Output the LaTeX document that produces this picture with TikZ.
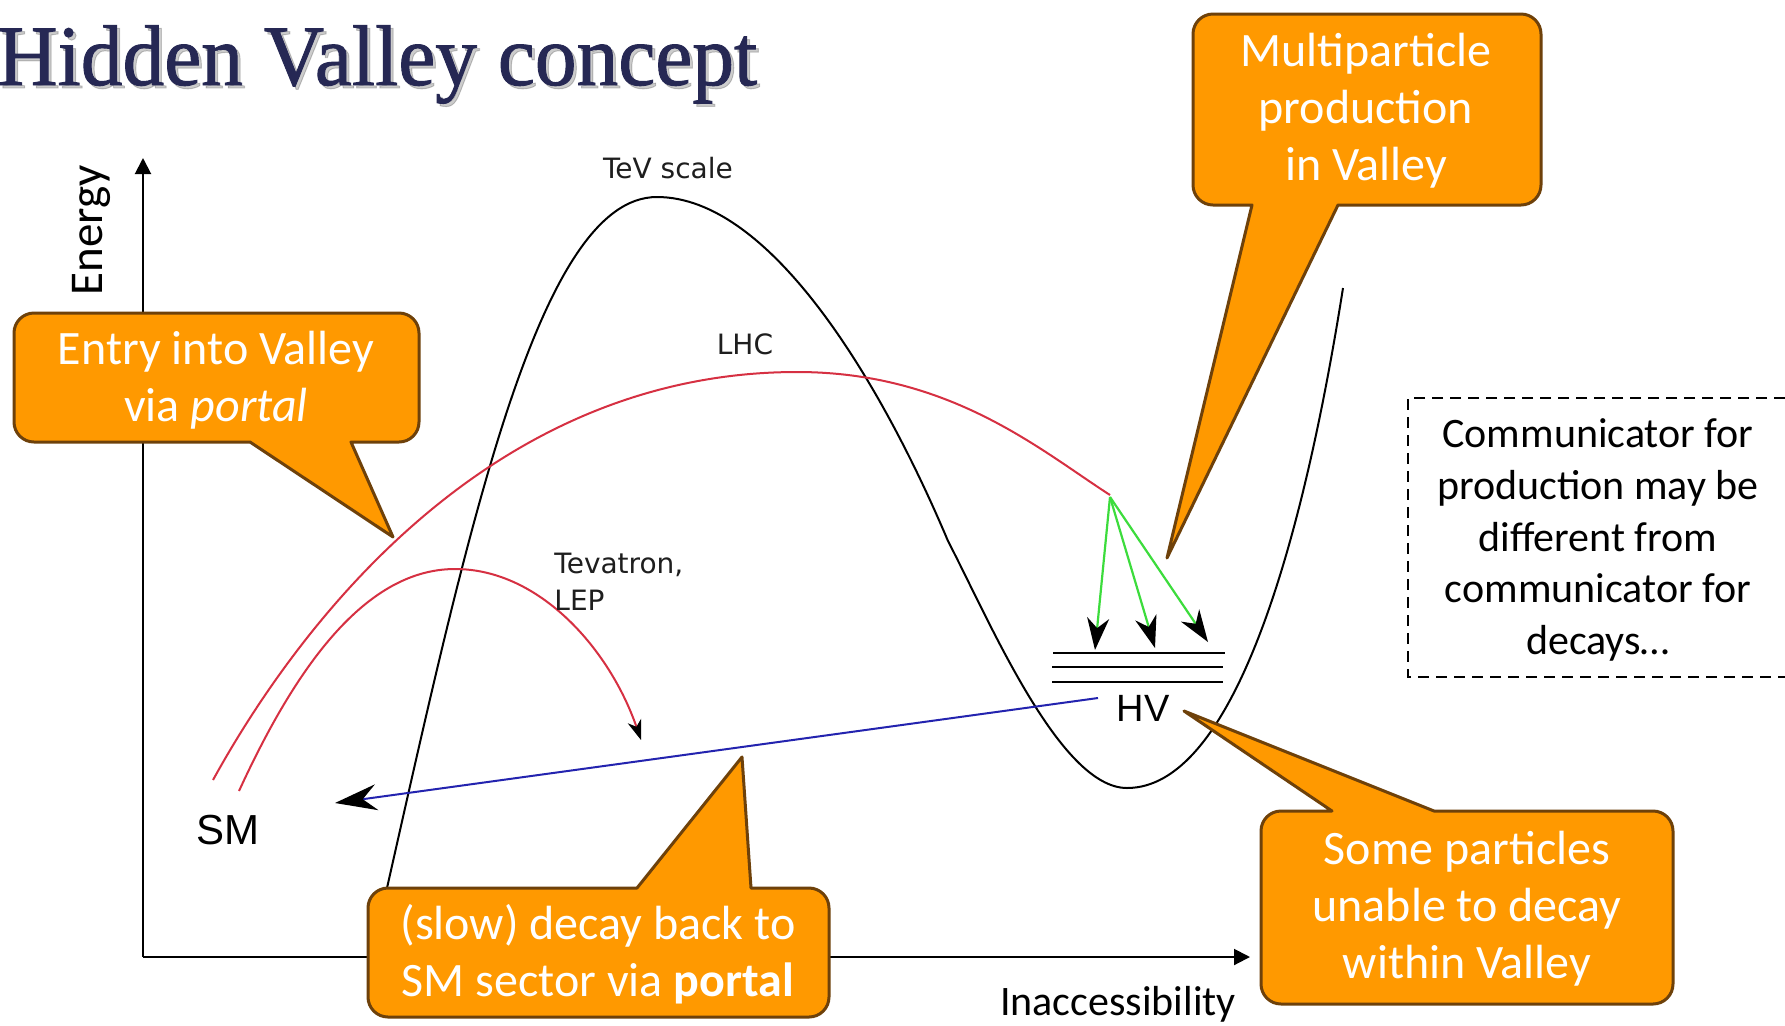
\documentclass[tikz,border=0pt]{standalone}
\usepackage{fontspec}
\usepackage{graphicx}
\usetikzlibrary{arrows.meta}
\newfontfamily\calfont{Carlito}
\newfontfamily\dvfont{DejaVu Sans}
\newfontfamily\arfont{Liberation Sans}
\newfontfamily\ttlfont[FakeBold=1.1]{Liberation Serif}
\definecolor{ttlcol}{RGB}{38,40,84}
\definecolor{calfill}{RGB}{255,153,0}
\definecolor{caledge}{RGB}{110,65,10}
\definecolor{curvered}{RGB}{214,48,66}
\definecolor{decayblue}{RGB}{35,35,175}
\definecolor{emitgreen}{RGB}{60,220,60}
\definecolor{lblgray}{RGB}{30,30,30}
\tikzset{
  calloutshape/.style={fill=calfill, draw=caledge, line width=1.5pt, line join=round},
  callouttext/.style={text=white, align=center, inner sep=0pt, font=\calfont\fontsize{24}{28.5}\selectfont},
  axisline/.style={line width=1pt, -{Triangle[length=8pt,width=8pt]}},
  valleycurve/.style={line width=1pt, black},
  redcurve/.style={line width=1pt, curvered},
  greenarrow/.style={line width=1.1pt, emitgreen, -{Stealth[black,length=16pt,width=11pt,inset=5pt]}},
  levelline/.style={line width=1.2pt, black},
  plotlabel/.style={text=lblgray, inner sep=0pt, font=\dvfont\fontsize{14}{18.5}\selectfont},
  notebox/.style={line width=1pt, dash pattern=on 5.5pt off 3.5pt},
}
\begin{document}
\begin{tikzpicture}[x=0.5pt,y=0.5pt]
\useasboundingbox (0,0) rectangle (1785,-1025);
\fill[white] (0,0) rectangle (1785,-1025);

% title
\node[anchor=base west, inner sep=0pt, text=black, opacity=0.2, font=\ttlfont\fontsize{43}{50}\selectfont] (titleshadow) at (0,-88) {\scalebox{0.97}[1]{Hidden Valley concept}};
\node[anchor=base west, inner sep=0pt, text=ttlcol, font=\ttlfont\fontsize{43}{50}\selectfont] (title) at (-3,-85) {\scalebox{0.97}[1]{Hidden Valley concept}};

% axes
\coordinate (origin) at (143,-957);
\coordinate (ytip) at (143,-158);
\coordinate (xtip) at (1250,-957);
\draw[axisline] (origin) -- (ytip);
\draw[axisline] (origin) -- (xtip);
\node[rotate=90, inner sep=0pt, font=\calfont\fontsize{23.5}{28}\selectfont] (energy) at (91,-230) {Energy};
\node[inner sep=0pt, font=\calfont\fontsize{21}{26}\selectfont] (inacc) at (1118,-1004) {Inaccessibility};

% valley curve
\draw[valleycurve] (387,-888) .. controls (470,-520) and (540,-197) .. (657,-197)
  .. controls (770,-197) and (880,-380) .. (948,-541)
  .. controls (990,-622) and (1060,-788) .. (1127,-788)
  .. controls (1230,-788) and (1300,-560) .. (1343,-288);

% red curves
\draw[redcurve] (213,-780) .. controls (290,-640) and (480,-372) .. (797,-372)
  .. controls (950,-372) and (1040,-450) .. (1110,-495);
\draw[redcurve, -{Stealth[black,length=10pt,width=7pt,inset=3pt]}]
  (239,-791) .. controls (290,-680) and (360,-569) .. (455,-569)
  .. controls (540,-569) and (610,-650) .. (641,-740);

% labels
\node[plotlabel] (tev) at (668,-168) {TeV scale};
\node[plotlabel] (lhc) at (745,-344) {LHC};
\node[plotlabel, anchor=north west, align=left] (tevatron) at (554,-553) {Tevatron,\\LEP};
\node[inner sep=0pt, font=\arfont\fontsize{21}{25}\selectfont] (sm) at (228,-830) {SM};
\node[inner sep=0pt, font=\arfont\fontsize{19}{23}\selectfont] (hv) at (1143,-708) {HV};

% emission
\coordinate (emit) at (1110,-497);
\coordinate (t1) at (1095,-650);
\coordinate (t2) at (1155,-648);
\coordinate (t3) at (1208,-642);
\draw[greenarrow] (emit) -- (t1);
\draw[greenarrow] (emit) -- (t2);
\draw[greenarrow] (emit) -- (t3);

% levels
\draw[levelline] (1053,-653) -- (1225,-653);
\draw[levelline] (1052,-667) -- (1223,-667);
\draw[levelline] (1052,-682) -- (1223,-682);

% decay back
\coordinate (hvstart) at (1098,-698);
\coordinate (smtip) at (335,-803);
\draw[line width=1pt, decayblue, -{Stealth[black,length=21pt,width=13pt,inset=7pt]}] (hvstart) -- (smtip);

% dashed note
\draw[notebox] (1785,-398) -- (1408,-398) -- (1408,-677) -- (1785,-677);
\node[align=center, inner sep=0pt, font=\calfont\fontsize{21}{25.9}\selectfont] (note) at (1598,-540)
 {Communicator for\\production may be\\different from\\communicator for\\decays\dots};

% callouts
\draw[calloutshape] (1213,-14) -- (1521,-14) arc[start angle=90,end angle=0,radius=20]
 -- (1541,-185) arc[start angle=0,end angle=-90,radius=20]
 -- (1338,-205) -- (1167,-558) -- (1252,-205)
 -- (1213,-205) arc[start angle=270,end angle=180,radius=20]
 -- (1193,-34) arc[start angle=180,end angle=90,radius=20] -- cycle;
\node[callouttext] (multi) at (1366,-111) {Multiparticle\\production\\in Valley};

\draw[calloutshape] (34,-313) -- (399,-313) arc[start angle=90,end angle=0,radius=20]
 -- (419,-422) arc[start angle=0,end angle=-90,radius=20]
 -- (351,-442) -- (393,-537) -- (250,-442)
 -- (34,-442) arc[start angle=270,end angle=180,radius=20]
 -- (14,-333) arc[start angle=180,end angle=90,radius=20] -- cycle;
\node[callouttext] (entry) at (216,-380) {Entry into Valley\\via \textit{portal}};

\draw[calloutshape] (388,-888) -- (637,-888) -- (742,-757) -- (751,-888)
 -- (809,-888) arc[start angle=90,end angle=0,radius=20]
 -- (829,-997) arc[start angle=0,end angle=-90,radius=20]
 -- (388,-1017) arc[start angle=270,end angle=180,radius=20]
 -- (368,-908) arc[start angle=180,end angle=90,radius=20] -- cycle;
\node[callouttext] (slow) at (598,-954) {(slow) decay back to\\SM sector via \textbf{portal}};

\draw[calloutshape] (1281,-811) -- (1332,-811) -- (1184,-711) -- (1434,-811)
 -- (1653,-811) arc[start angle=90,end angle=0,radius=20]
 -- (1673,-984) arc[start angle=0,end angle=-90,radius=20]
 -- (1281,-1004) arc[start angle=270,end angle=180,radius=20]
 -- (1261,-831) arc[start angle=180,end angle=90,radius=20] -- cycle;
\node[callouttext] (some) at (1467,-909) {Some particles\\unable to decay\\within Valley};
\end{tikzpicture}
\end{document}
